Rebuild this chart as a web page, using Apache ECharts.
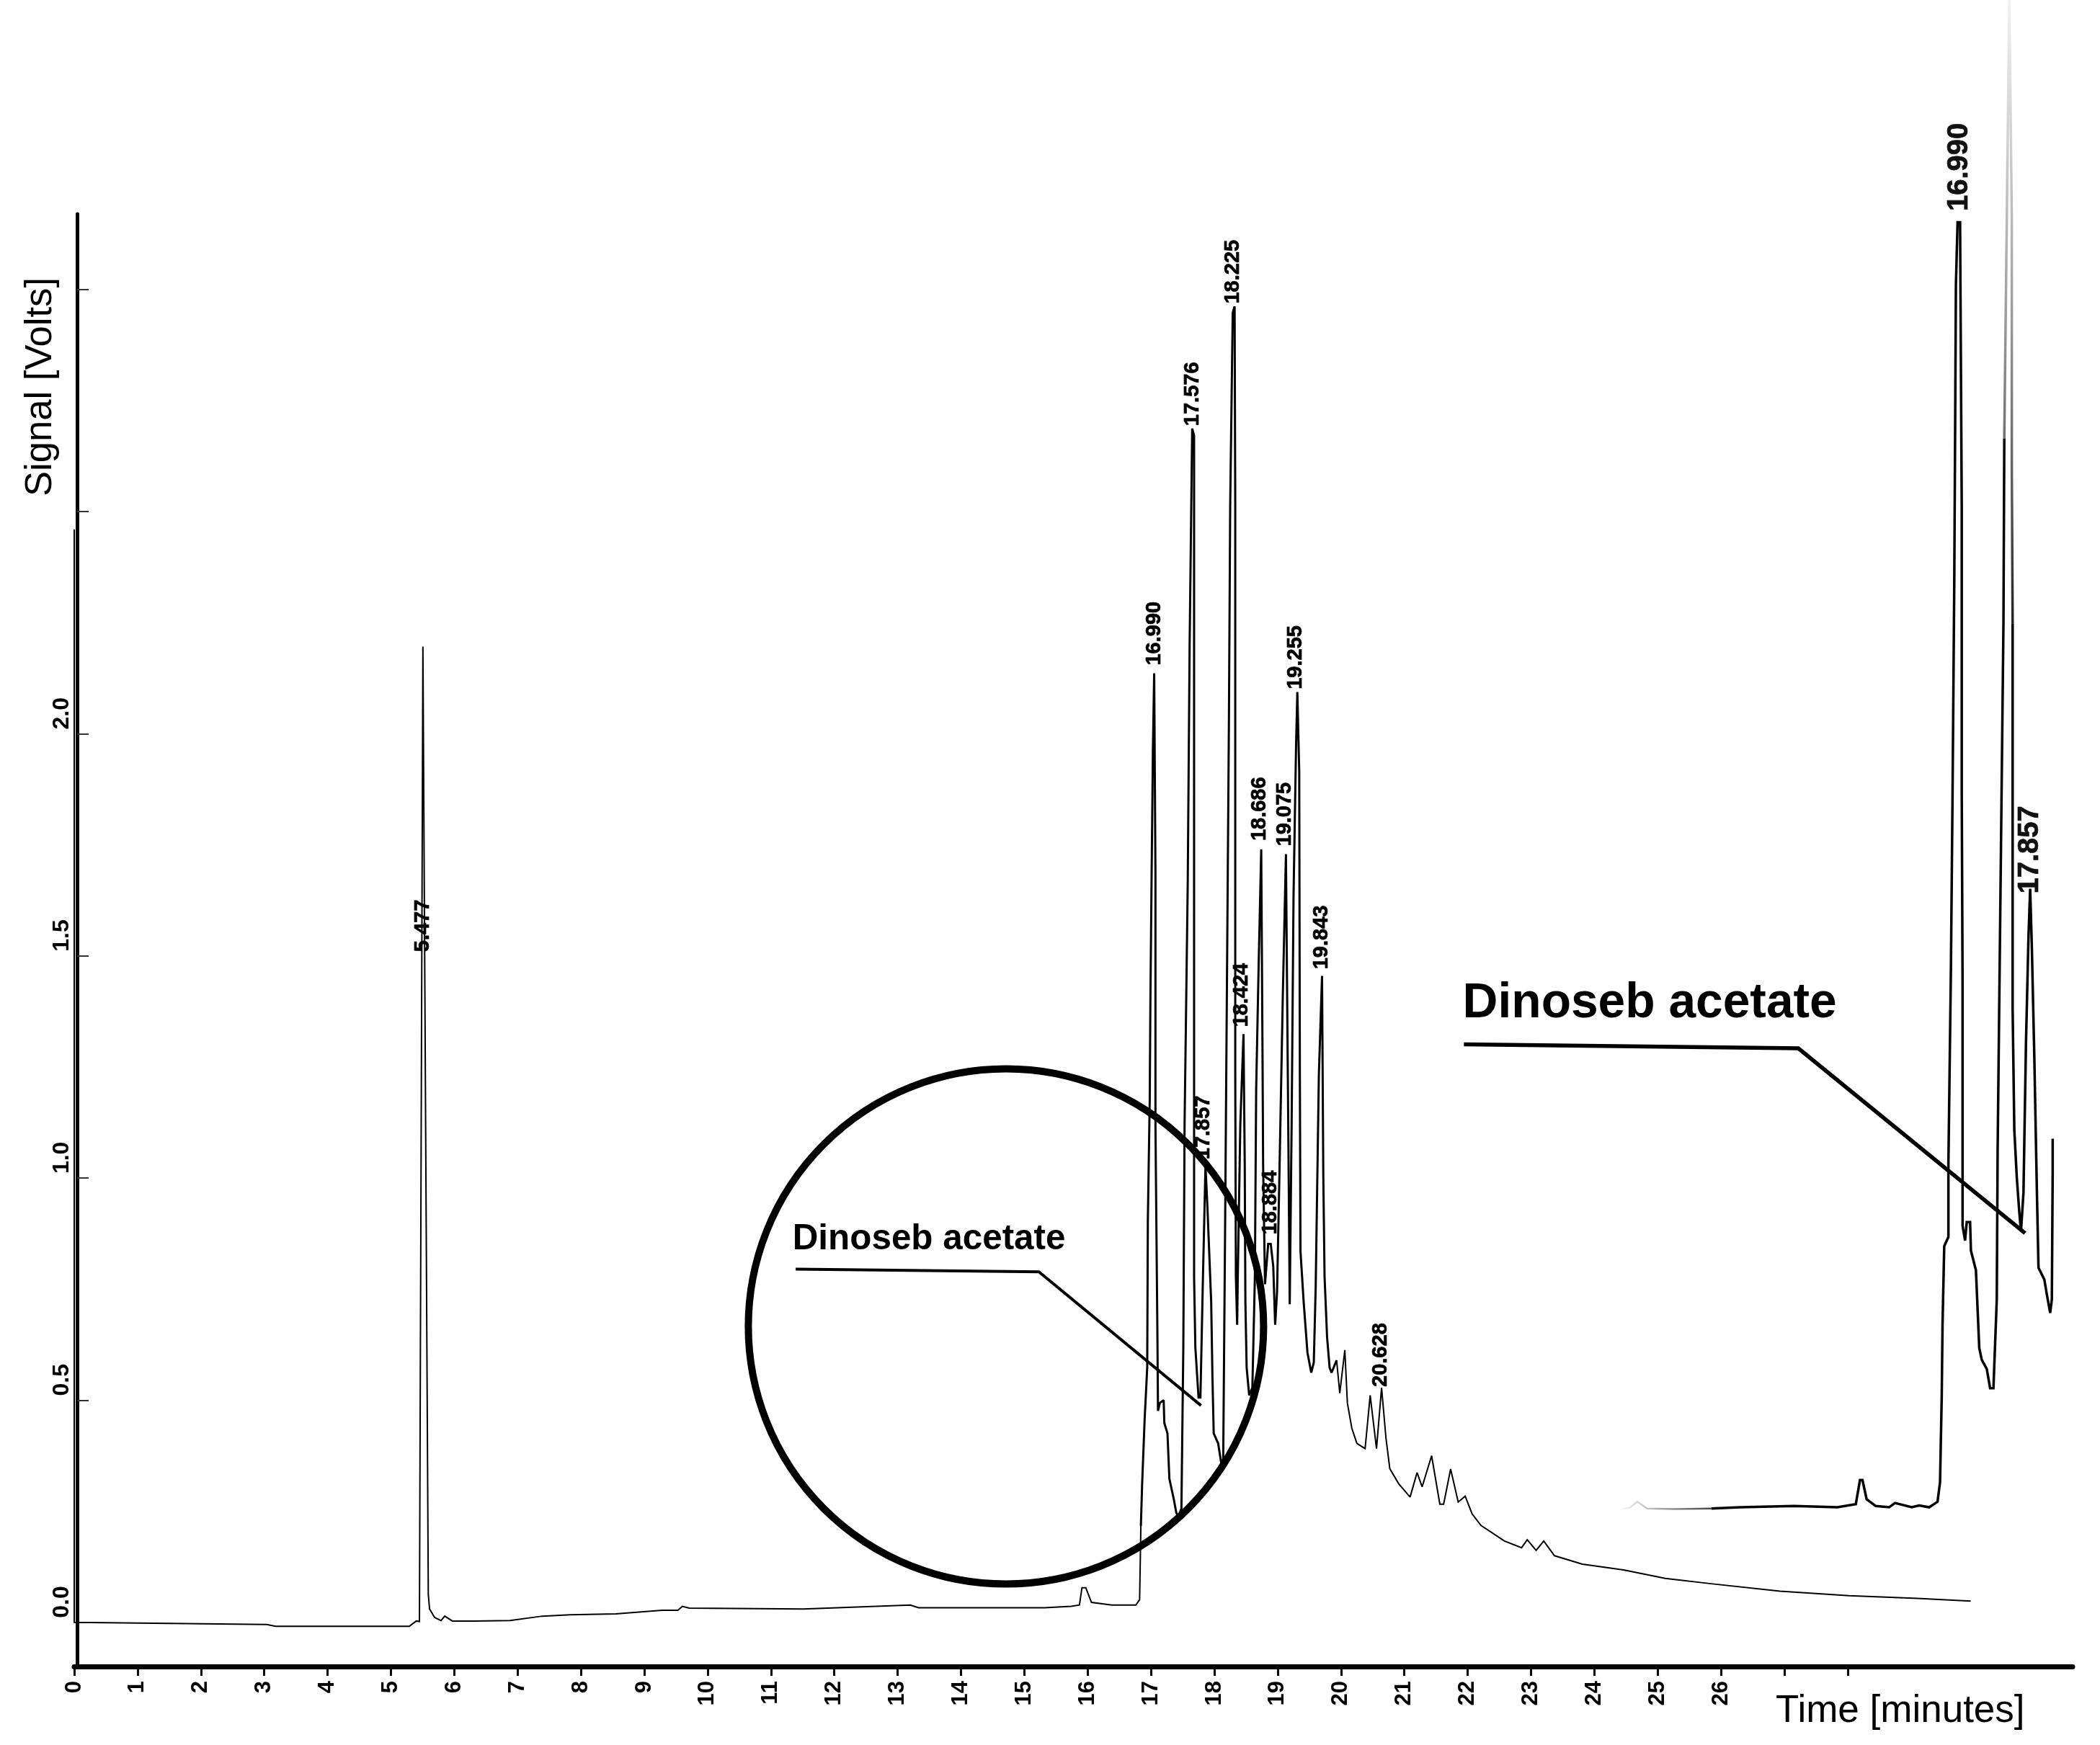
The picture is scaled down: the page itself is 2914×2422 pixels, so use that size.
<!DOCTYPE html>
<html><head><meta charset="utf-8">
<style>html,body{margin:0;padding:0;background:#fff}#c{width:2914px;height:2422px}</style>
<script src="https://cdn.jsdelivr.net/npm/echarts@6/dist/echarts.min.js"></script>
</head><body><div id="c"></div>
<script>
// Main chromatogram: [minutes, volts]
var mainEarly = [[0,2.46],[0,0.0],[3.04,-0.005],[3.18,-0.009],[5.0,-0.009],[5.29,-0.009],[5.40,0.003],[5.45,0.002],[5.505,2.196],[5.59,0.063],[5.61,0.03],[5.69,0.011],[5.79,0.004],[5.85,0.014],[5.97,0.003],[6.30,0.003],[6.88,0.004],[7.39,0.014],[7.83,0.017],[8.55,0.019],[9.28,0.027],[9.53,0.027],[9.60,0.036],[9.71,0.032],[11.51,0.03],[13.2,0.039],[13.33,0.033],[15.32,0.033],[15.74,0.036],[15.87,0.039],[15.91,0.078],[15.97,0.078],[16.06,0.045],[16.38,0.039],[16.76,0.039],[16.82,0.051]];
var mainPeaks = [[16.84,0.217],[16.86,0.312],[16.90,0.459],[16.94,0.573],[16.95,0.904],[16.98,1.178],[16.99,1.392],[17.01,1.69],[17.03,1.964],[17.05,2.136],[17.07,1.69],[17.07,1.121],[17.10,0.664],[17.11,0.476],[17.14,0.494],[17.20,0.5],[17.21,0.449],[17.26,0.425],[17.29,0.323],[17.36,0.277],[17.40,0.246],[17.43,0.238],[17.48,0.256],[17.51,0.619],[17.53,1.121],[17.58,1.666],[17.61,2.205],[17.65,2.687],[17.68,2.672],[17.68,2.03],[17.68,1.461],[17.68,0.777],[17.70,0.619],[17.75,0.506],[17.78,0.506],[17.82,0.777],[17.86,1.028],[17.89,0.937],[17.95,0.721],[17.97,0.551],[17.99,0.425],[18.06,0.403],[18.11,0.357],[18.14,0.368],[18.17,0.892],[18.20,1.461],[18.23,2.03],[18.25,2.513],[18.29,2.948],[18.32,2.962],[18.33,2.513],[18.33,2.03],[18.33,1.233],[18.34,0.778],[18.36,0.67],[18.37,0.778],[18.41,1.121],[18.46,1.324],[18.48,1.028],[18.49,0.721],[18.51,0.573],[18.55,0.511],[18.60,0.528],[18.64,0.778],[18.66,1.199],[18.70,1.484],[18.74,1.74],[18.76,1.29],[18.77,1.028],[18.80,0.761],[18.85,0.852],[18.89,0.852],[18.93,0.801],[18.96,0.67],[18.99,0.744],[19.03,1.028],[19.08,1.404],[19.13,1.729],[19.16,1.233],[19.19,0.716],[19.22,1.121],[19.25,1.633],[19.29,1.973],[19.31,2.094],[19.34,1.916],[19.35,1.233],[19.36,0.835],[19.41,0.721],[19.47,0.607],[19.53,0.562],[19.57,0.585],[19.60,0.755],[19.65,1.233],[19.70,1.455],[19.72,1.006],[19.74,0.778],[19.78,0.641],[19.82,0.573],[19.85,0.562]];
var mainTail = [[19.93,0.59],[19.98,0.516],[20.06,0.613],[20.10,0.494],[20.17,0.437],[20.25,0.403],[20.38,0.391],[20.46,0.511],[20.56,0.391],[20.64,0.528],[20.71,0.414],[20.77,0.346],[20.91,0.312],[21.09,0.282],[21.20,0.337],[21.28,0.305],[21.43,0.375],[21.56,0.266],[21.62,0.266],[21.73,0.345],[21.85,0.271],[21.96,0.284],[22.07,0.244],[22.21,0.218],[22.58,0.183],[22.85,0.168],[22.94,0.186],[23.08,0.162],[23.20,0.183],[23.37,0.15],[23.81,0.131],[24.46,0.118],[25.12,0.099],[25.84,0.087],[26.93,0.07],[28.02,0.06],[29.10,0.054],[29.94,0.048]];
// Peak labels on the main trace: [minutes, volts, label]
var mainPeakLabels = [[5.51,1.509,'5.477'],[17.05,2.154,'16.990'],[17.66,2.693,'17.576'],[17.83,1.042,'17.857'],[18.30,2.968,'18.225'],[18.43,1.34,'18.424'],[18.72,1.759,'18.686'],[18.89,0.873,'18.884'],[19.12,1.747,'19.075'],[19.29,2.1,'19.255'],[19.69,1.47,'19.843'],[20.63,0.53,'20.628']];
// Enlarged inset: [minutes, volts]
var insetFade = [[12.93,0.038],[13.07,0.042],[13.15,0.051],[13.27,0.04],[13.59,0.039],[14.04,0.04]];
var insetRise = [[14.04,0.04],[14.39,0.042],[15.03,0.044],[15.55,0.042],[15.77,0.047],[15.82,0.086],[15.85,0.086],[15.90,0.055],[16.01,0.044],[16.17,0.042],[16.24,0.049],[16.44,0.042],[16.53,0.045],[16.65,0.042],[16.75,0.051],[16.78,0.083],[16.80,0.222],[16.81,0.34],[16.83,0.465],[16.88,0.48],[16.88,0.597],[16.91,0.912],[16.93,1.2],[16.95,1.534],[16.96,1.767],[16.97,2.022],[16.99,2.124],[17.02,2.124],[17.04,1.66],[17.04,1.2],[17.05,0.888],[17.05,0.591],[17.05,0.498],[17.08,0.474],[17.10,0.504],[17.14,0.504],[17.15,0.458],[17.21,0.426],[17.25,0.3],[17.28,0.281],[17.34,0.266],[17.38,0.235],[17.42,0.235],[17.46,0.379],[17.47,0.618],[17.51,1.107],[17.54,1.474],[17.55,1.773]];
var insetTop = [[17.55,1.773],[17.58,2.129],[17.60,2.367],[17.61,2.484],[17.62,2.367],[17.64,2.129],[17.64,1.73],[17.65,1.474]];
var insetFall = [[17.65,1.474],[17.65,1.2],[17.65,0.849],[17.67,0.654],[17.70,0.576],[17.73,0.52],[17.75,0.489],[17.78,0.552],[17.81,0.794],[17.84,0.966],[17.86,1.044],[17.88,0.951],[17.91,0.771],[17.94,0.559],[17.96,0.43],[18.03,0.411],[18.06,0.387],[18.10,0.357],[18.12,0.379],[18.13,0.582],[18.13,0.639]];
var insetPeakLabels = [[17.01,2.142,'16.990'],[17.86,1.036,'17.857']];
// Annotations, in main-axis coordinates
var annotationText = 'Dinoseb acetate';
var smallLeader = [[11.39,0.795],[15.23,0.789],[17.79,0.488]];
var largeLeader = [[21.94,1.301],[27.22,1.292],[30.80,0.876]];
var circleCentre = [14.71,0.666];
var smallTextAt = [11.34,0.861];
var largeTextAt = [21.92,1.392];
// Axis ticks
var xTicks = [0,1,2,3,4,5,6,7,8,9,10,11,12,13,14,15,16,17,18,19,20,21,22,23,24,25,26,27,28];
var xTickLabels = [0,1,2,3,4,5,6,7,8,9,10,11,12,13,14,15,16,17,18,19,20,21,22,23,24,25,26];
var yTicks = [0,0.5,1,1.5,2,2.5,3];
var yTickLabels = [0,0.5,1,1.5,2];
var yAxisName = 'Signal [Volts]';
var xAxisName = 'Time [minutes]';

var FONT = '"Liberation Sans", Arial, sans-serif';
var chart = echarts.init(document.getElementById('c'), null, {renderer:'canvas'});
function line(name, data, width, color, grid){
  return {type:'line', name:name, data:data, xAxisIndex:grid, yAxisIndex:grid, showSymbol:false, symbol:'none', clip:false, silent:true, z:3,
    lineStyle:{width:width, color:color, join:'miter', miterLimit:2}};
}
function peakLabels(name, data, size, color, grid){
  return {type:'scatter', name:name, xAxisIndex:grid, yAxisIndex:grid, symbolSize:0, silent:true, clip:false, z:6,
    itemStyle:{opacity:1},
    data:data.map(function(d){return {value:[d[0],d[1]], name:d[2]};}),
    label:{show:true, formatter:'{b}', rotate:90, position:'top', distance:0, align:'left', verticalAlign:'middle', opacity:1,
      fontFamily:FONT, fontWeight:'bold', fontSize:size, color:color, textBorderColor:color, textBorderWidth:0.7}};
}
function textAt(name, pos, size){
  return {type:'scatter', name:name, xAxisIndex:0, yAxisIndex:0, symbolSize:0, silent:true, clip:false, z:6,
    itemStyle:{opacity:1},
    data:[{value:pos, name:annotationText}],
    label:{show:true, formatter:'{b}', position:'right', distance:0, opacity:1, fontFamily:FONT, fontWeight:'bold', fontSize:size, color:'#000'}};
}
chart.setOption({
  animation:false,
  backgroundColor:'#fff',
  grid:[
    {left:103, top:297, width:2773, height:2016, containLabel:false},
    {left:2229.6, top:0, width:631.7, height:2322.5}
  ],
  xAxis:[
    {type:'value', gridIndex:0, min:0, max:31.55, splitLine:{show:false},
      axisLine:{show:true, onZero:false, lineStyle:{color:'#000', width:7}},
      axisTick:{show:true, length:13, lineStyle:{color:'#000', width:3}, customValues:xTicks},
      axisLabel:{show:true, rotate:90, margin:20, fontFamily:FONT, fontWeight:'bold', fontSize:31, color:'#000', customValues:xTickLabels, showMinLabel:true, showMaxLabel:true, hideOverlap:false, formatter:function(v){return String(v);}}},
    {type:'value', gridIndex:1, min:12.785, max:18.242, show:false}
  ],
  yAxis:[
    {type:'value', gridIndex:0, min:-0.0993, max:3.17, offset:-4, splitLine:{show:false},
      axisLine:{show:true, onZero:false, lineStyle:{color:'#000', width:5}},
      axisTick:{show:true, inside:true, length:16, lineStyle:{color:'#333', width:2}, customValues:yTicks},
      axisLabel:{show:true, rotate:90, margin:5, align:'left', verticalAlign:'bottom', padding:[0,0,0,6], fontFamily:FONT, fontWeight:'bold', fontSize:32, color:'#000', customValues:yTickLabels, hideOverlap:false, formatter:function(v){return v.toFixed(1);}}},
    {type:'value', gridIndex:1, min:-0.227, max:2.484, show:false}
  ],
  series:[
    line('Trace early', mainEarly.concat(mainPeaks.slice(0,1)), 2, '#000', 0),
    line('Trace peaks', mainPeaks.concat(mainTail.slice(0,1)), 3, '#000', 0),
    line('Trace tail', mainTail, 2, '#000', 0),
    peakLabels('Peak labels', mainPeakLabels, 29, '#000', 0),
    line('Inset fade', insetFade, 2.5, new echarts.graphic.LinearGradient(0,0,1,0,[{offset:0,color:'rgba(0,0,0,0)'},{offset:1,color:'rgba(0,0,0,0.75)'}]), 1),
    line('Inset rise', insetRise, 3.5, '#000', 1),
    line('Inset top', insetTop, 3.5, new echarts.graphic.LinearGradient(0,0,0,1,[{offset:0,color:'rgba(120,120,120,0.1)'},{offset:1,color:'#222'}]), 1),
    line('Inset fall', insetFall, 3.5, '#000', 1),
    peakLabels('Inset labels', insetPeakLabels, 40, '#111', 1),
    line('Small leader', smallLeader, 4, '#000', 0),
    line('Large leader', largeLeader, 5.5, '#000', 0),
    {type:'scatter', name:'Circle', xAxisIndex:0, yAxisIndex:0, data:[circleCentre], symbol:'circle', symbolSize:715, silent:true, clip:false, z:5,
      itemStyle:{color:'rgba(0,0,0,0)', borderColor:'#000', borderWidth:10, opacity:1}},
    textAt('Small note', smallTextAt, 49.4),
    textAt('Large note', largeTextAt, 67.7)
  ],
  graphic:[
    {type:'text', x:56, y:537, rotation:Math.PI/2, silent:true, style:{text:yAxisName, fontFamily:FONT, fontSize:52.6, fill:'#000', textAlign:'center', textVerticalAlign:'middle'}},
    {type:'text', x:2464, y:2375, silent:true, style:{text:xAxisName, fontFamily:FONT, fontSize:53, fontWeight:'normal', fill:'#000', textAlign:'left', textVerticalAlign:'middle'}}
  ]
});
</script></body></html>
